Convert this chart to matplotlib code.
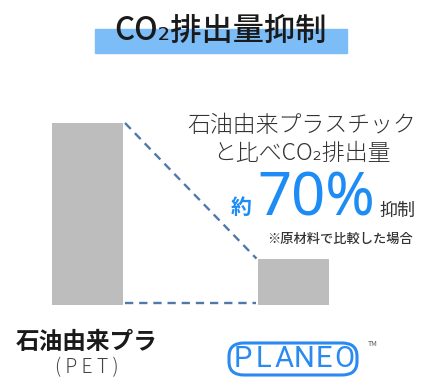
import matplotlib.pyplot as plt
from matplotlib.patches import FancyBboxPatch, Rectangle

plt.rcParams['font.family'] = ['Noto Sans CJK JP', 'DejaVu Sans']

# data
labels = ['石油由来プラ', 'PLANEO']
values = [100, 25.5]

W, H = 427, 379
fig = plt.figure(figsize=(W / 100, H / 100), dpi=100)
ax = fig.add_axes([0, 0, 1, 1])
# value 0 at pixel y=305, value 100 at pixel y=123
px = 1.82
ax.set_xlim(0, W)
ax.set_ylim(-(H - 305) / px, 123 / px + 100)
ax.axis('off')

xs = [87.5, 294]
bw = 71
ax.bar(xs, values, width=bw, color='#bdbdbd', zorder=2)

# dashed connectors
dash_c = '#4d7aab'
x0, x1 = xs[0] + bw / 2 + 2, xs[1] - bw / 2 - 2
ax.plot([x0, x1], [values[0], values[1]],
        ls=(0, (3.5, 2.5)), color=dash_c, lw=1.7, zorder=1)
ax.plot([x0, x1], [1, 1],
        ls=(0, (3.5, 2.5)), color=dash_c, lw=1.7, zorder=1)


def t(x, y, s, **kw):
    fig.text(x / W, 1 - y / H, s, **kw)


# title with highlight band
fig.patches.append(Rectangle((95 / W, 1 - 53 / H), 252 / W, 24 / H,
                             transform=fig.transFigure, color='#7dbdf7', zorder=0))
t(221, 31, 'CO₂排出量抑制', fontsize=22.5, ha='center', va='center',
  color='#1a1a1a', fontweight='medium', zorder=3)

# annotation
t(302, 125, '石油由来プラスチック', fontsize=16.5, ha='center', va='center',
  color='#333333', fontweight='light')
t(302, 153, 'と比べCO₂排出量', fontsize=16.5, ha='center', va='center',
  color='#333333', fontweight='light')
blue = '#1e8cf5'
t(241, 208, '約', fontsize=15, ha='center', va='center', color=blue, fontweight='bold')
t(316, 200, '70%', fontsize=43, ha='center', va='center', color=blue,
  family=['Noto Sans', 'DejaVu Sans'])
t(398, 211, '抑制', fontsize=13, ha='center', va='center', color='#333333')
t(340, 239, '※原材料で比較した場合', fontsize=9.5, ha='center', va='center',
  color='#333333', fontweight='medium')

# category labels
t(87, 342, labels[0], fontsize=17, ha='center', va='center',
  color='#1a1a1a', fontweight='bold')
t(87, 368, '( P E T )', fontsize=14, ha='center', va='center', color='#444444',
  fontweight='light')

# PLANEO logo
logo_blue = '#2a8af0'
fig.patches.append(FancyBboxPatch((229 / W, 1 - 375 / H), 128 / W, 32 / H,
                                  boxstyle='round,pad=0,rounding_size=0.035',
                                  transform=fig.transFigure, fc='none',
                                  ec=logo_blue, lw=2.2))
for i, ch in enumerate(labels[1]):
    t(243 + i * 20.3, 359, ch, fontsize=21, ha='center', va='center',
      color=logo_blue, family=['Roboto', 'DejaVu Sans'], fontweight='normal')
t(373, 344, 'TM', fontsize=5, ha='center', va='center', color='#555555')

fig.savefig('out.png', dpi=100)
